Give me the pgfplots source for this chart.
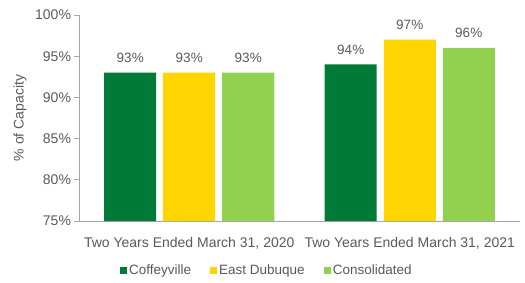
\documentclass[border=0pt]{standalone}
\usepackage{pgfplots}
\pgfplotsset{compat=1.18}
\usepackage{fontspec}
\setmainfont{Liberation Sans}
\definecolor{dkgreen}{HTML}{007A37}
\definecolor{ylw}{HTML}{FFD500}
\definecolor{ltgreen}{HTML}{92D050}
\definecolor{txt}{HTML}{595959}
\definecolor{axl}{HTML}{A6A6A6}
\begin{document}
\begin{tikzpicture}
\begin{axis}[
  at={(0pt,0pt)}, anchor=south west,
  scale only axis,
  width=441pt, height=206pt,
  ybar, bar width=52pt,
  ymin=75, ymax=100, ytick={75,80,...,100},
  yticklabel={\pgfmathprintnumber{\tick}\%},
  /pgf/number format/assume math mode=true,
  xmin=-0.5, xmax=1.5,
  xtick={0,1}, xticklabels={{Two Years Ended March 31, 2020}, {Two Years Ended March 31, 2021}},
  axis x line*=bottom, axis y line*=left,
  axis line style={axl, line width=0.8pt},
  x axis line style={-}, y axis line style={-},
  tick style={axl, line width=0.8pt},
  ytick style={axl}, xtick style={draw=none},
  tick align=outside, major tick length=4.5pt,
  ticklabel style={font=\fontsize{14}{16}\selectfont, text=txt},
  xticklabel style={anchor=base, yshift=-22pt},
  every axis y label/.style={at={(axis description cs:-0.134,0.5)}, rotate=90, anchor=center,
     font=\fontsize{14}{16}\selectfont, text=txt},
  ylabel={\% of Capacity},
  nodes near coords={\pgfmathprintnumber{\pgfplotspointmeta}\%},
  nodes near coords style={font=\fontsize{13.5}{16}\selectfont, text=txt, /pgf/number format/assume math mode=true, anchor=base, yshift=10pt},
  legend style={at={(0.426,-0.238)}, anchor=center, draw=none, legend columns=3,
    font=\fontsize{13.5}{16}\selectfont, text=txt, inner sep=0pt,
    /tikz/every even column/.append style={column sep=17pt}},
  legend image code/.code={\fill[#1] (0pt,-3.5pt) rectangle (7pt,3.5pt);},
  clip=false,
]
\addplot[fill=dkgreen, draw=none, bar shift=-59pt] coordinates {(0,93) (1,94)};
\addplot[fill=ylw, draw=none, bar shift=0pt] coordinates {(0,93) (1,97)};
\addplot[fill=ltgreen, draw=none, bar shift=59pt] coordinates {(0,93) (1,96)};
\legend{Coffeyville, East Dubuque, Consolidated}
\end{axis}
\pgfresetboundingbox
\useasboundingbox (-79pt,-61pt) rectangle (446pt,221pt);
\end{tikzpicture}
\end{document}
